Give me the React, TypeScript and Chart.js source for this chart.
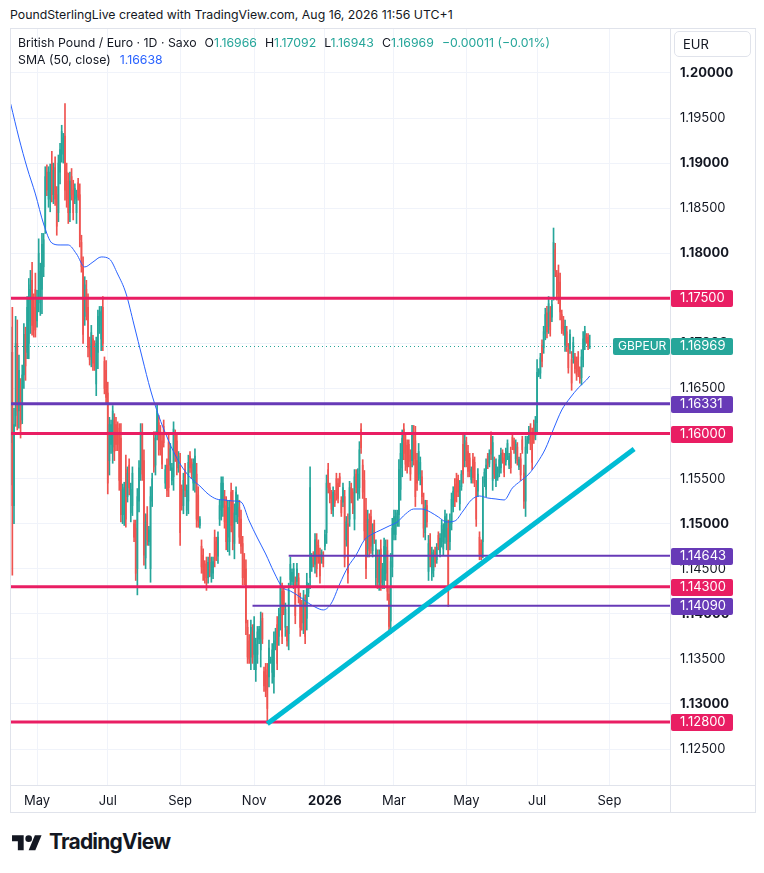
import React, { useEffect, useRef } from 'react';
import { Chart, registerables } from 'chart.js';

Chart.register(...registerables);

const FONT = 'Inter, "Noto Sans", Roboto, sans-serif';
const TEXT = '#131722';
const UP = '#26a69a';
const DOWN = '#ef5350';
const PINK = '#e91e63';
const PURPLE = '#673ab7';
const CYAN = '#00bcd4';
const SMA_BLUE = '#2962ff';
const GRID = '#f0f3fa';
const FRAME = '#e0e3eb';

// ---- data -------------------------------------------------------------
// Daily bars (weekdays), first bar date
const firstBarDate = '2025-04-09';

// prices in pips above 1.10000 (1 pip = 0.0001)
const openPips = [
  590,690,520,620,700,625,650,615,665,710,690,700,725,770,740,760,725,750,745,760,
  785,830,890,860,860,900,865,895,865,845,890,910,910,930,890,880,845,885,870,860,
  845,878,865,812,785,730,760,740,700,685,705,695,655,690,720,705,740,680,670,645,
  570,588,585,615,610,606,600,595,510,510,560,530,565,512,520,500,495,450,525,560,
  600,570,462,510,480,450,525,595,565,600,612,602,592,608,545,565,590,565,548,552,
  598,592,562,565,538,520,560,515,525,575,568,545,545,555,532,498,475,465,455,456,
  440,462,442,445,485,480,464,505,515,518,530,520,485,480,535,525,478,510,508,518,
  505,478,460,450,385,370,352,380,355,338,355,372,360,395,336,338,332,330,346,335,
  330,366,388,375,398,425,425,385,382,378,438,436,435,435,436,440,416,410,390,412,
  395,423,440,452,465,455,480,476,466,460,465,475,490,560,540,532,515,533,550,545,
  552,526,524,530,482,500,505,540,535,505,555,533,540,605,565,548,515,472,503,508,
  470,500,440,465,435,472,434,438,445,470,422,392,452,488,488,500,510,538,562,605,
  590,587,588,576,570,600,592,570,555,550,552,525,490,520,447,482,445,448,470,460,
  487,468,480,472,485,480,495,480,500,519,544,550,549,522,541,588,570,590,580,573,
  549,571,568,540,536,485,478,480,545,538,575,567,596,548,570,548,551,557,562,579,
  573,569,576,565,580,596,592,572,585,563,572,593,556,525,582,593,606,598,610,598,
  612,665,667,698,695,711,734,719,735,729,752,804,775,778,768,732,726,698,713,693,
  694,682,684,685,680,685,670,662,682,698,709,707,696.6,
];
const highPips = [
  718,740,628,730,726,687,661,676,722,718,752,772,781,790,755,778,759,816,789,822,
  822,896,898,896,899,913,900,907,874,909,922,942,933,966,900,889,890,894,881,877,
  870,883,877,820,796,774,770,755,707,720,709,703,707,737,741,741,752,685,681,657,
  618,615,631,622,618,613,611,611,544,546,576,563,572,545,563,504,504,539,570,611,
  611,582,511,519,497,541,556,602,602,632,620,609,600,615,565,572,600,589,567,613,
  604,600,580,578,543,556,567,543,576,580,572,572,583,567,541,508,482,472,459,463,
  463,467,463,463,493,485,491,526,552,552,537,530,526,526,545,537,522,541,532,526,
  515,486,467,460,393,377,393,388,397,373,386,386,402,401,341,345,345,371,352,367,
  380,384,397,406,441,434,430,412,386,434,463,450,456,441,456,445,423,415,426,421,
  445,434,563,467,469,489,489,482,473,471,469,493,554,567,545,537,541,537,556,550,
  556,530,545,537,508,511,547,545,539,560,560,561,591,611,571,559,528,515,511,515,
  500,504,482,471,471,482,456,484,482,482,430,467,506,515,515,515,571,589,604,611,
  598,593,593,582,609,609,608,578,589,574,559,534,526,526,487,489,474,471,474,478,
  491,489,504,500,515,511,504,511,534,541,550,556,554,548,559,598,598,596,587,578,
  563,578,574,548,561,491,482,552,561,572,578,582,602,597,574,572,563,576,584,582,
  578,584,593,578,585,600,595,593,590,574,578,597,565,597,597,608,611,606,615,619,
  682,672,689,704,719,739,741,752,741,748,828,811,781,787,778,737,730,726,719,700,
  715,691,707,689,685,691,674,693,713,719,711,711,709.2,
];
const lowPips = [
  543,443,500,608,604,606,595,611,650,659,683,683,711,709,707,707,718,735,731,733,
  774,822,864,851,846,857,855,853,820,835,877,901,900,859,851,833,835,859,837,855,
  833,859,807,779,700,720,726,685,676,674,670,670,642,672,711,692,692,644,633,533,
  554,578,567,570,581,581,537,502,500,498,496,524,532,502,509,480,437,421,513,548,
  548,454,450,476,476,435,519,557,554,593,576,576,561,585,539,530,530,559,543,537,
  569,554,557,476,515,511,530,509,511,557,550,537,535,496,496,495,445,437,434,426,
  434,441,435,439,452,459,456,498,504,508,495,471,469,465,491,471,461,502,500,478,
  467,432,432,377,345,345,338,345,338,325,345,367,341,367,314,308,278,319,345,323,
  312,360,338,365,382,367,399,375,364,360,430,432,428,389,430,412,375,382,378,367,
  382,419,428,447,452,445,441,456,434,456,452,471,478,534,523,511,508,519,526,523,
  541,508,519,452,475,434,497,523,511,493,534,526,528,578,528,482,439,463,463,467,
  463,478,430,428,426,426,428,428,437,415,378,378,441,482,482,497,497,526,552,571,
  559,556,563,548,563,565,519,537,548,543,522,485,482,496,437,452,437,441,452,456,
  471,463,474,465,478,471,408,471,493,513,519,524,530,515,537,545,563,563,552,552,
  545,545,541,497,530,460,460,462,541,530,561,563,571,537,550,541,548,552,556,567,
  552,565,571,561,556,582,578,567,565,560,548,578,517,508,578,589,582,560,589,593,
  600,663,661,674,689,704,706,711,708,724,748,774,748,744,726,711,709,691,691,667,
  689,648,678,667,659,663,656,654,674,693,700,693,694.3,
];
const closePips = [
  690,520,610,700,625,670,610,665,710,675,740,760,765,720,715,715,750,800,780,810,
  815,885,870,890,890,865,892,860,830,900,915,935,928,870,860,845,880,865,845,872,
  865,862,815,785,710,765,735,695,682,712,678,675,700,730,736,735,700,650,640,545,
  610,610,625,580,588,588,548,510,538,540,505,556,540,538,556,485,445,530,562,602,
  555,465,502,482,493,530,550,563,595,625,582,582,566,590,560,537,540,583,562,605,
  575,562,575,490,520,548,537,537,568,562,555,566,575,505,503,505,452,445,440,434,
  457,446,457,458,460,465,485,520,545,545,502,480,518,518,498,480,512,535,526,485,
  475,440,440,390,352,350,385,352,388,366,380,383,392,372,320,315,295,362,350,360,
  370,380,345,400,430,375,405,405,370,425,455,446,450,398,450,418,385,390,418,375,
  435,432,540,462,456,482,450,462,442,468,456,488,545,540,528,516,535,523,532,528,
  545,512,540,462,502,445,540,528,516,552,540,555,582,584,535,492,450,505,470,475,
  493,483,472,435,462,435,450,475,474,425,386,458,495,508,508,512,560,578,595,578,
  566,563,569,555,600,572,530,545,580,568,530,495,518,502,478,460,468,465,457,474,
  475,484,498,494,508,504,425,503,527,536,525,530,535,542,555,555,592,570,558,558,
  560,551,548,505,555,466,465,540,557,565,565,578,577,590,555,566,560,571,578,570,
  557,580,589,575,562,586,582,588,570,571,554,582,525,585,593,604,588,568,594,614,
  668,670,684,680,713,732,713,744,715,743,812,781,755,752,735,716,714,719,697,673,
  710,656,701,672,665,669,661,685,705,714,702,697,696.9,
];

// SMA(50, close) at these bar numbers
const smaBars = [
  0,5,10,15,20,25,30,35,40,45,50,55,60,65,70,75,80,85,90,95,100,105,110,115,120,
  125,130,135,140,145,150,155,160,165,170,175,180,185,190,195,200,205,210,215,220,
  225,230,235,240,245,250,255,260,265,270,275,280,285,290,295,300,305,310,315,320,
  325,330,335,340,345,350,352,
];
const smaPips = [
  965.6,927.9,894.6,865.8,832.5,811.4,809.2,809.2,799.2,784.8,790.3,795.9,793.7,777.0,
  755.9,720.4,683.8,648.3,619.5,596.2,576.2,560.7,549.6,541.8,532.9,527.4,526.3,525.2,
  524.1,503.0,484.1,466.4,446.4,429.8,425.3,419.8,413.1,407.6,404.3,412.0,433.1,452.0,
  465.3,481.9,488.6,493.0,497.4,501.9,510.7,516.3,516.3,513.0,507.4,501.9,503.0,514.1,
  526.3,530.7,528.5,527.4,526.3,539.6,547.4,555.1,567.3,582.9,605.1,626.1,639.4,650.5,
  659.4,663.8,
];

// horizontal levels drawn on the chart
const levelPrices = [1.175, 1.16331, 1.16, 1.14643, 1.143, 1.1409, 1.128];
const levelStartBar: (number | null)[] = [null, null, null, 169, null, 147, null];
// trend line anchors
const trendFrom = { bar: 156, price: 1.1278 };
const trendTo = { bar: 379, price: 1.15829 };

const priceTicks = [
  1.125, 1.13, 1.135, 1.14, 1.145, 1.15, 1.155, 1.16, 1.165, 1.17, 1.175, 1.18, 1.185,
  1.19, 1.195, 1.2,
];
const monthTickDates = [
  '2025-05-01', '2025-07-01', '2025-09-01', '2025-11-01', '2026-01-01', '2026-03-01',
  '2026-05-01', '2026-07-01', '2026-09-01',
];
const monthTickLabels = ['May', 'Jul', 'Sep', 'Nov', '2026', 'Mar', 'May', 'Jul', 'Sep'];

const symbolTicker = 'GBPEUR';
const lastPrice = 1.16969;
const lastOHLC = ['1.16966', '1.17092', '1.16943', '1.16969'];
const lastChange = '\u22120.00011 (\u22120.01%)';
const smaLast = '1.16638';

// visible range of the axes
const xMin = -0.43;
const xMax = 400.8;
const yMin = 1.12101;
const yMax = 1.20499;

// ---- derived ----------------------------------------------------------
const toPrice = (p: number) => +(1.1 + p / 10000).toFixed(5);

function weekdays(start: string, count: number): string[] {
  const out: string[] = [];
  const d = new Date(start + 'T00:00:00Z');
  while (out.length < count) {
    const wd = d.getUTCDay();
    if (wd !== 0 && wd !== 6) out.push(d.toISOString().slice(0, 10));
    d.setUTCDate(d.getUTCDate() + 1);
  }
  return out;
}
const barDates = weekdays(firstBarDate, 420);
const monthTickBars = monthTickDates.map((t) => barDates.findIndex((d) => d >= t));

const LEVEL_STYLE = [
  { color: PINK, width: 3 },
  { color: PURPLE, width: 3 },
  { color: PINK, width: 3 },
  { color: PURPLE, width: 2 },
  { color: PINK, width: 3 },
  { color: PURPLE, width: 2 },
  { color: PINK, width: 3 },
];

const isWhole = (v: number) => Math.abs(v * 100 - Math.round(v * 100)) < 1e-6;

const overlayPlugin = {
  id: 'tvOverlay',
  afterDatasetsDraw(chart: any) {
    const { ctx, chartArea: a } = chart;
    const xs = chart.scales.x;
    const ys = chart.scales.y;
    ctx.save();
    ctx.beginPath();
    ctx.rect(a.left, a.top, a.right - a.left, a.bottom - a.top);
    ctx.clip();
    // last price dotted line
    const py = Math.round(ys.getPixelForValue(lastPrice)) + 0.5;
    ctx.strokeStyle = UP;
    ctx.lineWidth = 1;
    ctx.setLineDash([1, 3]);
    ctx.beginPath();
    ctx.moveTo(a.left, py);
    ctx.lineTo(a.right, py);
    ctx.stroke();
    ctx.setLineDash([]);
    // levels
    levelPrices.forEach((p, k) => {
      const yPix = ys.getPixelForValue(p);
      const sb = levelStartBar[k];
      const x0 = sb == null ? a.left : xs.getPixelForValue(sb);
      ctx.strokeStyle = LEVEL_STYLE[k].color;
      ctx.lineWidth = LEVEL_STYLE[k].width;
      ctx.beginPath();
      ctx.moveTo(x0, yPix);
      ctx.lineTo(a.right, yPix);
      ctx.stroke();
    });
    // trend line
    ctx.strokeStyle = CYAN;
    ctx.lineWidth = 5;
    ctx.beginPath();
    ctx.moveTo(xs.getPixelForValue(trendFrom.bar), ys.getPixelForValue(trendFrom.price));
    ctx.lineTo(xs.getPixelForValue(trendTo.bar), ys.getPixelForValue(trendTo.price));
    ctx.stroke();
    ctx.restore();
  },
  afterDraw(chart: any) {
    const { ctx, chartArea: a, width, height } = chart;
    const ys = chart.scales.y;
    ctx.save();
    ctx.strokeStyle = FRAME;
    ctx.lineWidth = 1;
    ctx.strokeRect(0.5, 0.5, width - 1, height - 1);
    const bx = Math.round(a.bottom) + 0.5;
    const rx = Math.round(a.right) + 0.5;
    ctx.beginPath();
    ctx.moveTo(0, bx);
    ctx.lineTo(width, bx);
    ctx.moveTo(rx, 0);
    ctx.lineTo(rx, height);
    ctx.stroke();

    ctx.textBaseline = 'middle';
    ctx.textAlign = 'left';
    const box = (yPix: number, bg: string, text: string, x0: number, w: number, tx: number, size: number) => {
      ctx.fillStyle = bg;
      ctx.beginPath();
      ctx.roundRect(x0, Math.round(yPix) - 8, w, 17, 2);
      ctx.fill();
      ctx.fillStyle = '#ffffff';
      ctx.font = `${size}px ${FONT}`;
      ctx.fillText(text, tx, Math.round(yPix) + 0.5);
    };
    levelPrices.forEach((p, k) => {
      box(ys.getPixelForValue(p), LEVEL_STYLE[k].color, p.toFixed(5), a.right + 1, 62, a.right + 10, 13);
    });
    const ly = ys.getPixelForValue(lastPrice);
    box(ly, UP, symbolTicker, a.right - 57, 57, a.right - 52, 12);
    box(ly, UP, lastPrice.toFixed(5), a.right + 1, 62, a.right + 10, 13);
    ctx.restore();
  },
};

export default function App() {
  const ref = useRef<HTMLCanvasElement>(null);

  useEffect(() => {
    document.body.style.margin = '0';
    const n = closePips.length;
    const idx = Array.from({ length: n }, (_, i) => i);
    const colors = idx.map((i) => (closePips[i] >= openPips[i] ? UP : DOWN));
    const wickData = idx.map((i) => ({ x: i, y: [toPrice(lowPips[i]), toPrice(highPips[i])] }));
    const bodyData = idx.map((i) => {
      const o = toPrice(openPips[i]);
      const c = toPrice(closePips[i]);
      return { x: i, y: [Math.min(o, c), Math.max(o, c)] };
    });
    const smaData = smaBars.map((b, k) => ({ x: b, y: toPrice(smaPips[k]) }));

    const chart = new Chart(ref.current as HTMLCanvasElement, {
      type: 'bar',
      data: {
        datasets: [
          {
            type: 'line',
            label: 'SMA (50, close)',
            data: smaData as any,
            borderColor: SMA_BLUE,
            borderWidth: 1,
            pointRadius: 0,
            cubicInterpolationMode: 'monotone',
            order: 0,
          } as any,
          {
            type: 'bar',
            label: 'body',
            data: bodyData as any,
            backgroundColor: colors,
            barThickness: 1,
            grouped: false,
            order: 1,
          } as any,
          {
            type: 'bar',
            label: 'wick',
            data: wickData as any,
            backgroundColor: colors,
            barThickness: 1,
            grouped: false,
            order: 2,
          } as any,
        ],
      },
      options: {
        animation: false,
        responsive: true,
        maintainAspectRatio: false,
        events: [],
        layout: { padding: 0 },
        plugins: { legend: { display: false }, tooltip: { enabled: false } },
        scales: {
          x: {
            type: 'linear',
            min: xMin,
            max: xMax,
            offset: false,
            grid: { color: GRID, drawTicks: false, offset: false },
            border: { display: false },
            afterBuildTicks: (s: any) => {
              s.ticks = monthTickBars.map((v) => ({ value: v }));
            },
            afterFit: (s: any) => {
              s.height = 28;
              s.paddingLeft = 0;
              s.paddingRight = 0;
            },
            ticks: {
              autoSkip: false,
              maxRotation: 0,
              padding: 8,
              color: TEXT,
              font: (c: any) => ({
                family: FONT,
                size: 13,
                weight: monthTickLabels[c.index] === '2026' ? 'bold' : 'normal',
              }),
              callback: (_v: any, i: number) => monthTickLabels[i],
            },
          } as any,
          y: {
            type: 'linear',
            position: 'right',
            min: yMin,
            max: yMax,
            grid: { color: GRID, drawTicks: false },
            border: { display: false },
            afterBuildTicks: (s: any) => {
              s.ticks = priceTicks.map((v) => ({ value: v }));
            },
            afterFit: (s: any) => {
              s.width = 86;
              s.paddingTop = 0;
              s.paddingBottom = 0;
            },
            ticks: {
              padding: 10,
              color: TEXT,
              font: (c: any) => ({
                family: FONT,
                size: 13,
                weight: c.tick && isWhole(c.tick.value) ? 'bold' : 'normal',
              }),
              callback: (v: any) => Number(v).toFixed(5),
            },
          } as any,
        },
      },
      plugins: [overlayPlugin as any],
    });
    return () => chart.destroy();
  }, []);

  const gap = { marginLeft: 8 };
  return (
    <div
      style={{
        position: 'relative',
        width: 764,
        height: 873,
        background: '#ffffff',
        fontFamily: FONT,
        color: TEXT,
        overflow: 'hidden',
      }}
    >
      <div style={{ position: 'absolute', left: 10, top: 28, width: 746, height: 785 }}>
        <canvas ref={ref} />
      </div>
      <div style={{ position: 'absolute', left: 10, top: 6, fontSize: 12.3, lineHeight: '18px', whiteSpace: 'nowrap' }}>
        PoundSterlingLive created with TradingView.com, Aug 16, 2026 11:56 UTC+1
      </div>
      <div style={{ position: 'absolute', left: 18, top: 34, fontSize: 12.3, lineHeight: '18px', whiteSpace: 'nowrap' }}>
        <span>British Pound / Euro · 1D · Saxo</span>
        <span style={gap}>O</span>
        <span style={{ color: UP }}>{lastOHLC[0]}</span>
        <span style={gap}>H</span>
        <span style={{ color: UP }}>{lastOHLC[1]}</span>
        <span style={gap}>L</span>
        <span style={{ color: UP }}>{lastOHLC[2]}</span>
        <span style={gap}>C</span>
        <span style={{ color: UP }}>{lastOHLC[3]}</span>
        <span style={{ ...gap, color: UP }}>{lastChange}</span>
      </div>
      <div style={{ position: 'absolute', left: 18, top: 51, fontSize: 12.3, lineHeight: '18px', whiteSpace: 'nowrap' }}>
        <span>SMA (50, close)</span>
        <span style={{ marginLeft: 9, color: SMA_BLUE }}>{smaLast}</span>
      </div>
      <div
        style={{
          position: 'absolute',
          left: 674,
          top: 31,
          width: 67,
          height: 24,
          border: `1px solid ${FRAME}`,
          borderRadius: 5,
          fontSize: 13,
          lineHeight: '24px',
          paddingLeft: 8,
          boxSizing: 'content-box',
          background: '#ffffff',
        }}
      >
        EUR
      </div>
      <svg
        style={{ position: 'absolute', left: 11.7, top: 831.6 }}
        width={30}
        height={23.3}
        viewBox="0 0 36 28"
      >
        <path d="M14 22H7V11H0V4h14v18z" fill={TEXT} />
        <path d="M28 22h-8l7.5-18h8L28 22z" fill={TEXT} />
        <circle cx="20" cy="8" r="4" fill={TEXT} />
      </svg>
      <div
        style={{
          position: 'absolute',
          left: 49,
          top: 830,
          fontSize: 21,
          fontWeight: 700,
          lineHeight: '24px',
          letterSpacing: -0.8,
          whiteSpace: 'nowrap',
        }}
      >
        TradingView
      </div>
    </div>
  );
}
